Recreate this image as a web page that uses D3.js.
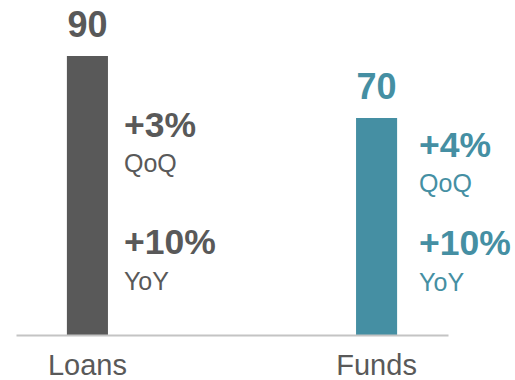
<!DOCTYPE html>
<html>
<head>
<meta charset="utf-8">
<script src="https://cdn.jsdelivr.net/npm/d3@7/dist/d3.min.js"></script>
<style>
  html, body { margin: 0; padding: 0; background: #ffffff; }
  svg { display: block; font-family: "Liberation Sans", Arial, Helvetica, sans-serif; }
</style>
</head>
<body>
<svg id="chart" width="515" height="380"></svg>
<script>
// Chart data
const categories = ["Loans", "Funds"];
const values = [90, 70];
const qoqLabels = ["+3%", "+4%"];
const yoyLabels = ["+10%", "+10%"];
const qoqCaption = "QoQ";
const yoyCaption = "YoY";
const colors = ["#595959", "#458fa3"];

const svg = d3.select("#chart");
const baseY = 335;

const x = d3.scaleBand()
  .domain(categories)
  .range([16, 448])
  .paddingInner(0.858)
  .paddingOuter(0.176);

const y = d3.scaleLinear()
  .domain([0, 90])
  .range([baseY, 56]);

// Bars
svg.selectAll("rect.bar")
  .data(categories)
  .join("rect")
  .attr("class", "bar")
  .attr("x", d => x(d))
  .attr("width", x.bandwidth())
  .attr("y", (d, i) => y(values[i]))
  .attr("height", (d, i) => y(0) - y(values[i]))
  .attr("fill", (d, i) => colors[i]);

// Value labels above bars
svg.selectAll("text.value")
  .data(categories)
  .join("text")
  .attr("class", "value")
  .attr("x", d => x(d) + x.bandwidth() / 2)
  .attr("y", (d, i) => y(values[i]) - 19)
  .attr("text-anchor", "middle")
  .attr("font-size", 36)
  .attr("font-weight", "bold")
  .attr("fill", (d, i) => colors[i])
  .text((d, i) => values[i]);

// Growth annotations to the right of each bar
const noteDx = [16, 22];
const qoqY = [137, 157];
const yoyY = [254, 255];

categories.forEach((c, i) => {
  const nx = x(c) + x.bandwidth() + noteDx[i];
  const g = svg.append("g").attr("fill", colors[i]);
  g.append("text").attr("x", nx).attr("y", qoqY[i])
    .attr("font-size", 35.5).attr("font-weight", "bold").text(qoqLabels[i]);
  g.append("text").attr("x", nx).attr("y", qoqY[i] + 35)
    .attr("font-size", 25).text(qoqCaption);
  g.append("text").attr("x", nx).attr("y", yoyY[i])
    .attr("font-size", 35.5).attr("font-weight", "bold").text(yoyLabels[i]);
  g.append("text").attr("x", nx).attr("y", yoyY[i] + 36)
    .attr("font-size", 25).text(yoyCaption);
});

// Category axis
const axis = svg.append("g")
  .attr("transform", `translate(0,${baseY})`)
  .call(d3.axisBottom(x).tickSize(0).tickSizeOuter(0).tickPadding(19.5));
axis.select(".domain").attr("stroke", "#c4c4c4").attr("stroke-width", 2);
axis.selectAll(".tick text")
  .attr("font-family", "'Liberation Sans', Arial, sans-serif")
  .attr("font-size", 29)
  .attr("fill", "#595959");
</script>
</body>
</html>
